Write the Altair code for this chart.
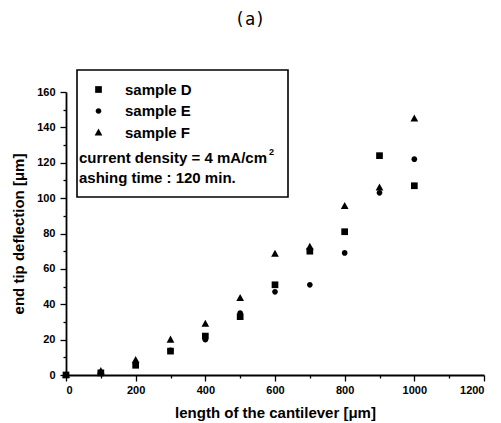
import altair as alt
import pandas as pd

lengths = [0, 100, 200, 300, 400, 500, 600, 700, 800, 900, 1000]
sample_d = [0, 1.2, 5.5, 13.5, 22, 33, 51, 70, 81, 124, 107]
sample_e = [0, 1.5, 6, 14, 20, 35, 47, 51, 69, 103, 122]
sample_f = [0, 2.2, 8.5, 20, 29, 43.5, 68.5, 72.5, 95.5, 106, 145]
samples = ["sample D", "sample E", "sample F"]

rows = []
for name, vals in zip(samples, [sample_d, sample_e, sample_f]):
    for x, v in zip(lengths, vals):
        rows.append({"length": x, "deflection": v, "sample": name})
df = pd.DataFrame(rows)

W, H = 418, 283
font = "Liberation Sans"

circle_path = "M0.85,0A0.85,0.85,0,1,1,-0.85,0A0.85,0.85,0,1,1,0.85,0Z"
tri_path = "M-1.15,0.9L1.15,0.9L0,-1.2Z"

xaxis = alt.Axis(
    values=list(range(0, 1201, 100)),
    format="d",
    labelExpr="datum.value % 200 === 0 ? datum.label : ''",
    tickSize={"condition": {"test": "datum.value % 200 === 0", "value": 6}, "value": 3},
    grid=False, domainColor="black", domainWidth=1.8, tickColor="black", tickWidth=1.3,
    labelFont=font, labelFontSize=11, labelFontWeight="bold", labelColor="black",
    labelPadding=3, title="length of the cantilever [\u03bcm]", titleFont=font,
    titleFontSize=15, titleFontWeight="bold", titleColor="black", titlePadding=10,
)
yaxis = alt.Axis(
    values=list(range(0, 161, 10)),
    format="d",
    labelExpr="datum.value % 20 === 0 ? datum.label : ''",
    tickSize={"condition": {"test": "datum.value % 20 === 0", "value": 6}, "value": 3},
    grid=False, domainColor="black", domainWidth=1.8, tickColor="black", tickWidth=1.3,
    labelFont=font, labelFontSize=11, labelFontWeight="bold", labelColor="black",
    labelPadding=5, title="end tip deflection [\u03bcm]", titleFont=font,
    titleFontSize=15, titleFontWeight="bold", titleColor="black", titlePadding=10,
)

points = alt.Chart(df).mark_point(
    filled=True, opacity=1, color="black", size=45, clip=False
).encode(
    x=alt.X("length:Q", scale=alt.Scale(domain=[0, 1200], nice=False, zero=True), axis=xaxis),
    y=alt.Y("deflection:Q", scale=alt.Scale(domain=[0, 160], nice=False), axis=yaxis),
    shape=alt.Shape(
        "sample:N",
        scale=alt.Scale(domain=samples, range=["square", circle_path, tri_path]),
        legend=alt.Legend(
            orient="none", legendX=25, legendY=-10, title=None, padding=0,
            labelFont=font, labelFontSize=15, labelFontWeight="bold", labelColor="black",
            symbolFillColor="black", symbolStrokeColor="black", symbolStrokeWidth=0,
            symbolSize=45, rowPadding=5.5, labelOffset=19, symbolOffset=0,
        ),
    ),
)

box = alt.Chart(pd.DataFrame({"a": [0]})).mark_rect(
    filled=False, stroke="black", strokeWidth=1.6, clip=False
).encode(x=alt.value(11), x2=alt.value(222), y=alt.value(-22), y2=alt.value(105))

ann1 = alt.Chart(pd.DataFrame({"text": ["current density = 4 mA/cm"]})).mark_text(
    align="left", baseline="middle", font=font, fontSize=15, fontWeight="bold", color="black", clip=False
).encode(x=alt.value(13), y=alt.value(66), text="text:N")
sup = alt.Chart(pd.DataFrame({"text": ["2"]})).mark_text(
    align="left", baseline="middle", font=font, fontSize=9, fontWeight="bold", color="black", clip=False
).encode(x=alt.value(203), y=alt.value(60), text="text:N")
ann2 = alt.Chart(pd.DataFrame({"text": ["ashing time : 120 min."]})).mark_text(
    align="left", baseline="middle", font=font, fontSize=15, fontWeight="bold", color="black", clip=False
).encode(x=alt.value(13), y=alt.value(86), text="text:N")

title = alt.Chart(pd.DataFrame({"text": ["(a)"]})).mark_text(
    align="center", baseline="middle", font="DejaVu Sans Mono", fontSize=17, color="black", clip=False
).encode(x=alt.value(184), y=alt.value(-72), text="text:N")

chart = alt.layer(box, points, ann1, sup, ann2, title).properties(
    width=W, height=H,
    autosize=alt.AutoSizeParams(type="none"),
    padding={"left": 66, "top": 92, "right": 17, "bottom": 48},
    background="white",
).configure_view(stroke=None)

chart.save("out.html", embed_options={"renderer": "svg", "actions": False})
